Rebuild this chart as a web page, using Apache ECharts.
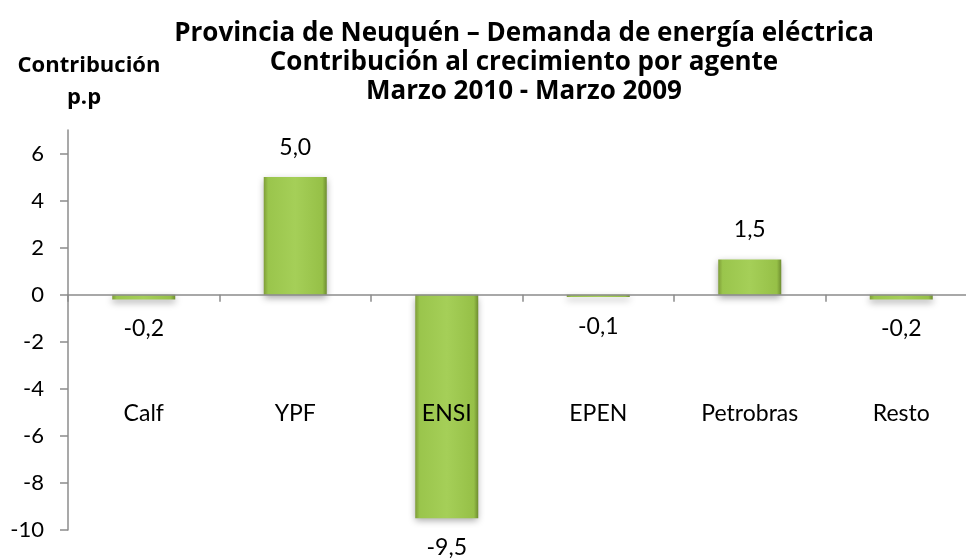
<!DOCTYPE html>
<html>
<head>
<meta charset="utf-8">
<script src="https://cdn.jsdelivr.net/npm/echarts@6/dist/echarts.min.js"></script>
<style>
  html, body { margin: 0; padding: 0; background: #fff; }
  #chart { width: 966px; height: 559px; }
</style>
</head>
<body>
<div id="chart"></div>
<script>
// Data
const categories = ['Calf', 'YPF', 'ENSI', 'EPEN', 'Petrobras', 'Resto']
const contribution = [-0.2, 5.0, -9.5, -0.1, 1.5, -0.2]
const yTicks = [-10, -8, -6, -4, -2, 0, 2, 4, 6]

const font = 'Lato, "Open Sans", sans-serif'
const boldFont = '"Open Sans", Lato, sans-serif'

const barColor = new echarts.graphic.LinearGradient(0, 0, 1, 0, [
  { offset: 0, color: '#7f9e38' },
  { offset: 0.07, color: '#9ac54c' },
  { offset: 0.5, color: '#a5cf58' },
  { offset: 0.93, color: '#96c047' },
  { offset: 1, color: '#6e8d30' },
])

const chart = echarts.init(document.getElementById('chart'))

chart.setOption({
  animation: false,
  textStyle: { fontFamily: font, color: '#000' },
  title: [
    {
      text: 'Provincia de Neuquén – Demanda de energía eléctrica\nContribución al crecimiento por agente\nMarzo 2010 - Marzo 2009',
      left: 519,
      top: 14,
      textAlign: 'center',
      textStyle: { fontFamily: boldFont, fontSize: 26, fontWeight: 'bold', color: '#000', lineHeight: 29 },
    },
    {
      text: 'Contribución',
      left: 84,
      top: 48,
      textAlign: 'center',
      textStyle: { fontFamily: boldFont, fontSize: 22, fontWeight: 'bold', color: '#000', lineHeight: 26 },
    },
    {
      text: 'p.p',
      left: 79,
      top: 80,
      textAlign: 'center',
      textStyle: { fontFamily: boldFont, fontSize: 22, fontWeight: 'bold', color: '#000', lineHeight: 26 },
    },
  ],
  grid: { left: 68, right: -11, top: 130, bottom: 29, containLabel: false, outerBoundsMode: 'none' },
  xAxis: [
    {
      // zero line with boundary ticks
      type: 'category',
      data: categories,
      position: 'bottom',
      z: 5,
      axisLine: { onZero: true, lineStyle: { color: '#8c8c8c', width: 1.5 } },
      axisTick: { show: true, length: 7, lineStyle: { color: '#8c8c8c', width: 1.5 } },
      axisLabel: { show: false },
    },
    {
      // category names drawn across the plot, as in the reference
      type: 'category',
      data: categories,
      position: 'bottom',
      offset: -128,
      z: 6,
      axisLine: { show: false, onZero: false },
      axisTick: { show: false },
      axisLabel: { margin: 0, fontSize: 23, color: '#000', fontFamily: font, interval: 0 },
    },
  ],
  yAxis: {
    type: 'value',
    min: -10,
    max: 7,
    interval: 2,
    axisLine: { show: true, lineStyle: { color: '#8c8c8c', width: 1.5 } },
    axisTick: { show: true, length: 8, customValues: yTicks, lineStyle: { color: '#8c8c8c', width: 1.5 } },
    axisLabel: { margin: 24, fontSize: 22, color: '#000', fontFamily: font, customValues: yTicks },
    splitLine: { show: false },
  },
  series: [
    {
      type: 'bar',
      data: contribution,
      barWidth: 63,
      itemStyle: {
        color: barColor,
        shadowColor: 'rgba(0,0,0,0.35)',
        shadowBlur: 7,
        shadowOffsetY: 3,
      },
      label: {
        show: true,
        position: 'outside',
        distance: 18,
        fontSize: 23,
        color: '#000',
        fontFamily: font,
        formatter: p => p.value.toFixed(1).replace('.', ','),
      },
    },
  ],
})
</script>
</body>
</html>
